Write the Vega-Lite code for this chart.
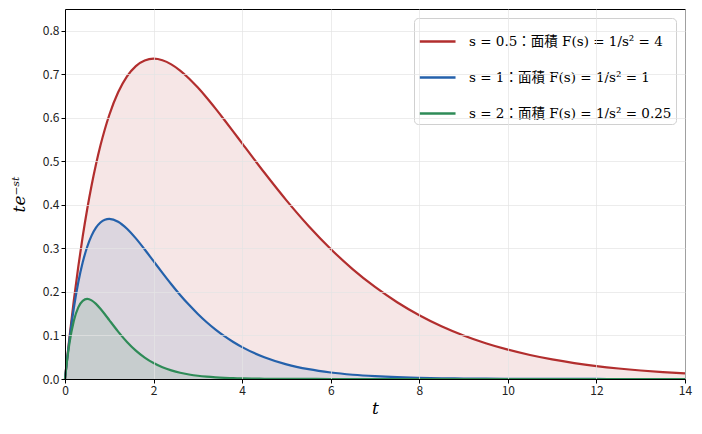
{
  "$schema": "https://vega.github.io/schema/vega-lite/v6.json",
  "width": 620,
  "height": 370,
  "autosize": {"type": "none"},
  "padding": {"left": 65, "top": 9, "right": 17, "bottom": 55},
  "background": "white",
  "data": {
    "values": [
      {"t": 0, "s05": 0, "s1": 0, "s2": 0},
      {"t": 0.05, "s05": 0.0488, "s1": 0.0476, "s2": 0.0452},
      {"t": 0.1, "s05": 0.0951, "s1": 0.0905, "s2": 0.0819},
      {"t": 0.2, "s05": 0.181, "s1": 0.1637, "s2": 0.1341},
      {"t": 0.3, "s05": 0.2582, "s1": 0.2222, "s2": 0.1646},
      {"t": 0.4, "s05": 0.3275, "s1": 0.2681, "s2": 0.1797},
      {"t": 0.5, "s05": 0.3894, "s1": 0.3033, "s2": 0.1839},
      {"t": 0.6, "s05": 0.4445, "s1": 0.3293, "s2": 0.1807},
      {"t": 0.7, "s05": 0.4933, "s1": 0.3476, "s2": 0.1726},
      {"t": 0.8, "s05": 0.5363, "s1": 0.3595, "s2": 0.1615},
      {"t": 0.9, "s05": 0.5739, "s1": 0.3659, "s2": 0.1488},
      {"t": 1.0, "s05": 0.6065, "s1": 0.3679, "s2": 0.1353},
      {"t": 1.2, "s05": 0.6586, "s1": 0.3614, "s2": 0.1089},
      {"t": 1.4, "s05": 0.6952, "s1": 0.3452, "s2": 0.0851},
      {"t": 1.6, "s05": 0.7189, "s1": 0.323, "s2": 0.0652},
      {"t": 1.8, "s05": 0.7318, "s1": 0.2975, "s2": 0.0492},
      {"t": 2.0, "s05": 0.7358, "s1": 0.2707, "s2": 0.0366},
      {"t": 2.2, "s05": 0.7323, "s1": 0.2438, "s2": 0.027},
      {"t": 2.4, "s05": 0.7229, "s1": 0.2177, "s2": 0.0198},
      {"t": 2.6, "s05": 0.7086, "s1": 0.1931, "s2": 0.0143},
      {"t": 2.8, "s05": 0.6905, "s1": 0.1703, "s2": 0.0104},
      {"t": 3.0, "s05": 0.6694, "s1": 0.1494, "s2": 0.0074},
      {"t": 3.2, "s05": 0.6461, "s1": 0.1304, "s2": 0.0053},
      {"t": 3.4, "s05": 0.6211, "s1": 0.1135, "s2": 0.0038},
      {"t": 3.6, "s05": 0.5951, "s1": 0.0984, "s2": 0.0027},
      {"t": 3.8, "s05": 0.5684, "s1": 0.085, "s2": 0.0019},
      {"t": 4.0, "s05": 0.5413, "s1": 0.0733, "s2": 0.0013},
      {"t": 4.5, "s05": 0.4743, "s1": 0.05, "s2": 0.0006},
      {"t": 5.0, "s05": 0.4104, "s1": 0.0337, "s2": 0.0002},
      {"t": 5.5, "s05": 0.3516, "s1": 0.0225, "s2": 0.0001},
      {"t": 6.0, "s05": 0.2987, "s1": 0.0149, "s2": 0},
      {"t": 6.5, "s05": 0.252, "s1": 0.0098, "s2": 0},
      {"t": 7.0, "s05": 0.2114, "s1": 0.0064, "s2": 0},
      {"t": 7.5, "s05": 0.1764, "s1": 0.0041, "s2": 0},
      {"t": 8.0, "s05": 0.1465, "s1": 0.0027, "s2": 0},
      {"t": 8.5, "s05": 0.1212, "s1": 0.0017, "s2": 0},
      {"t": 9.0, "s05": 0.1, "s1": 0.0011, "s2": 0},
      {"t": 9.5, "s05": 0.0822, "s1": 0.0007, "s2": 0},
      {"t": 10.0, "s05": 0.0674, "s1": 0.0005, "s2": 0},
      {"t": 10.5, "s05": 0.0551, "s1": 0.0003, "s2": 0},
      {"t": 11.0, "s05": 0.045, "s1": 0.0002, "s2": 0},
      {"t": 11.5, "s05": 0.0366, "s1": 0.0001, "s2": 0},
      {"t": 12.0, "s05": 0.0297, "s1": 0.0001, "s2": 0},
      {"t": 12.5, "s05": 0.0241, "s1": 0, "s2": 0},
      {"t": 13.0, "s05": 0.0195, "s1": 0, "s2": 0},
      {"t": 13.5, "s05": 0.0158, "s1": 0, "s2": 0},
      {"t": 14.0, "s05": 0.0128, "s1": 0, "s2": 0}
    ]
  },
  "transform": [
    {"fold": ["s05", "s1", "s2"], "as": ["series", "value"]}
  ],
  "encoding": {
    "x": {
      "field": "t",
      "type": "quantitative",
      "title": "t",
      "scale": {"domain": [0, 14], "nice": false},
      "axis": {"values": [0, 2, 4, 6, 8, 10, 12, 14], "format": "d", "zindex": 1, "labelFlush": false}
    },
    "y": {
      "field": "value",
      "type": "quantitative",
      "title": "te⁻ˢᵗ",
      "stack": null,
      "scale": {"domain": [0, 0.85], "nice": false},
      "axis": {"values": [0, 0.1, 0.2, 0.3, 0.4, 0.5, 0.6, 0.7, 0.8], "format": ".1f", "zindex": 1, "labelFlush": false}
    },
    "color": {
      "field": "series",
      "type": "nominal",
      "scale": {
        "domain": ["s05", "s1", "s2"],
        "range": ["#b22e2e", "#2461ab", "#2e8b57"]
      },
      "legend": {
        "title": null,
        "orient": "top-right",
        "offset": 9,
        "symbolType": "stroke",
        "symbolSize": 1300,
        "symbolStrokeWidth": 2.5,
        "symbolOpacity": 1,
        "labelFont": "DejaVu Serif, Noto Sans CJK JP",
        "labelFontSize": 13.5,
        "labelColor": "black",
        "labelLimit": 400,
        "labelOffset": 12,
        "rowPadding": 10,
        "padding": 4,
        "strokeColor": "#d0d0d0",
        "fillColor": "white",
        "cornerRadius": 4,
        "labelExpr": "datum.value == 's05' ? 's = 0.5：面積 F(s) = 1/s² = 4' : datum.value == 's1' ? 's = 1：面積 F(s) = 1/s² = 1' : 's = 2：面積 F(s) = 1/s² = 0.25'"
      }
    }
  },
  "layer": [
    {"mark": {"type": "area", "opacity": 0.12, "interpolate": "monotone"}},
    {"mark": {"type": "line", "strokeWidth": 2.2, "interpolate": "monotone"}}
  ],
  "config": {
    "view": {"stroke": "black", "strokeWidth": 1},
    "axis": {
      "labelFont": "Noto Sans CJK JP",
      "labelFontSize": 12,
      "labelColor": "#222",
      "tickColor": "black",
      "tickSize": 4,
      "domainColor": "black",
      "gridColor": "#e4e4e4",
      "gridOpacity": 0.7,
      "titleFont": "DejaVu Serif",
      "titleFontStyle": "italic",
      "titleFontWeight": "normal",
      "titleFontSize": 17,
      "titleColor": "black"
    },
    "axisX": {"titlePadding": 4},
    "axisY": {"titlePadding": 14}
  }
}
